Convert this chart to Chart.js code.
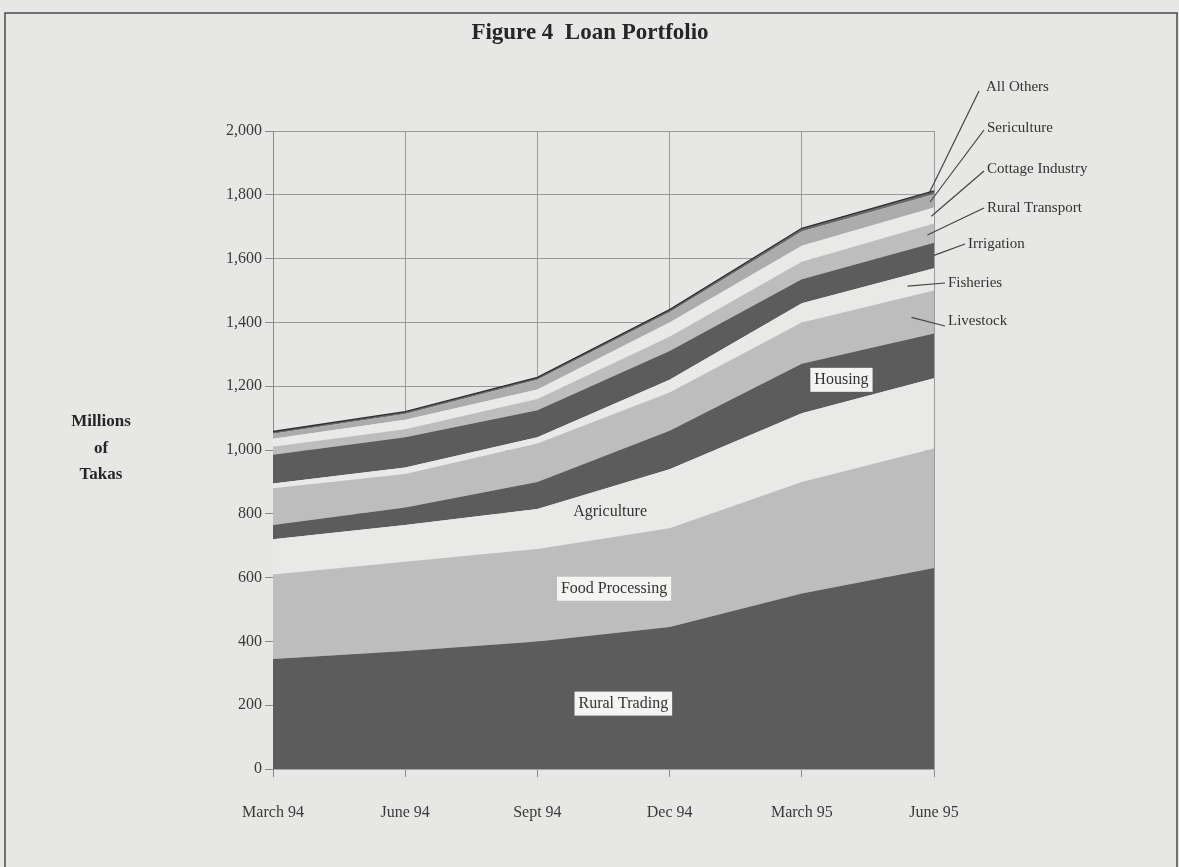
<!DOCTYPE html>
<html>
<head>
<meta charset="utf-8">
<title>Loan Portfolio</title>
<script src="https://cdn.jsdelivr.net/npm/chart.js@4.4.1/dist/chart.umd.min.js"></script>
<style>
  html, body { margin: 0; padding: 0; background: #e7e7e5; }
  #wrap { width: 1179px; height: 867px; }
</style>
</head>
<body>
<div id="wrap"><canvas id="loanChart" width="1179" height="867"></canvas></div>
<script>
// quarterly loan balances by sector, millions of takas
const quarters = ['March 94', 'June 94', 'Sept 94', 'Dec 94', 'March 95', 'June 95'];
const ruralTrading    = [345, 370, 400, 445, 550, 630];
const foodProcessing  = [265, 280, 290, 310, 350, 375];
const agriculture     = [110, 115, 125, 185, 215, 220];
const housing         = [45, 55, 85, 120, 155, 140];
const livestock       = [115, 105, 120, 120, 130, 135];
const fisheries       = [15, 20, 20, 40, 60, 70];
const irrigation      = [90, 95, 85, 90, 75, 80];
const ruralTransport  = [25, 25, 35, 45, 55, 60];
const cottageIndustry = [25, 30, 30, 45, 50, 50];
const sericulture     = [16, 18, 30, 32, 45, 42];
const allOthers       = [7, 7, 8, 8, 10, 10];

const SERIF = '"Liberation Serif", "DejaVu Serif", serif';
const DARK = '#5c5c5c', MID = '#bdbdbd', PALE = '#e9e9e7';

const sectors = [
    { label: 'Rural Trading', data: ruralTrading, color: DARK },
    { label: 'Food Processing', data: foodProcessing, color: MID },
    { label: 'Agriculture', data: agriculture, color: PALE },
    { label: 'Housing', data: housing, color: DARK },
    { label: 'Livestock', data: livestock, color: MID },
    { label: 'Fisheries', data: fisheries, color: PALE },
    { label: 'Irrigation', data: irrigation, color: DARK },
    { label: 'Rural Transport', data: ruralTransport, color: MID },
    { label: 'Cottage Industry', data: cottageIndustry, color: PALE },
    { label: 'Sericulture', data: sericulture, color: '#acacac' },
    { label: 'All Others', data: allOthers, color: '#6a6a6a' }
];

// labels written on the bands: index position + value position
const bandLabels = [
    { text: 'Rural Trading', at: 2.65, value: 205, boxed: true },
    { text: 'Food Processing', at: 2.58, value: 565, boxed: true },
    { text: 'Agriculture', at: 2.55, value: 805, boxed: false },
    { text: 'Housing', at: 4.3, value: 1220, boxed: true }
];

// labels to the right with leader lines; at = fractional category index of the anchor
const calloutLabels = [
    { series: 10, at: 4.96, tx: 986, ty: 87, lx: 979, ly: 91 },
    { series: 9, at: 4.97, tx: 987, ty: 128, lx: 984, ly: 130 },
    { series: 8, at: 4.98, tx: 987, ty: 169, lx: 984, ly: 171 },
    { series: 7, at: 4.95, tx: 987, ty: 208, lx: 984, ly: 208 },
    { series: 6, at: 5, tx: 968, ty: 244, lx: 965, ly: 244 },
    { series: 5, at: 4.8, tx: 948, ty: 283, lx: 945, ly: 283 },
    { series: 4, at: 4.83, tx: 948, ty: 321, lx: 945, ly: 326 }
];

const lerp = (a, b, t) => a + (b - a) * t;

const bandPoint = (chart, series, at) => {
    const i = Math.min(Math.floor(at), quarters.length - 2);
    const t = at - i;
    const top = chart.getDatasetMeta(series).data;
    const x = lerp(top[i].x, top[i + 1].x, t);
    const yTop = lerp(top[i].y, top[i + 1].y, t);
    let yBottom = chart.scales.y.getPixelForValue(0);
    if (series > 0) {
        const below = chart.getDatasetMeta(series - 1).data;
        yBottom = lerp(below[i].y, below[i + 1].y, t);
    }
    return { x, y: (yTop + yBottom) / 2 };
};

const decorations = {
    id: 'decorations',
    beforeDraw(chart) {
        const ctx = chart.ctx;
        ctx.save();
        ctx.fillStyle = '#e7e7e5';
        ctx.fillRect(0, 0, chart.width, chart.height);
        ctx.strokeStyle = '#4a4a4a';
        ctx.lineWidth = 1.5;
        ctx.strokeRect(5, 13, 1172, 870);
        ctx.restore();
    },
    afterDraw(chart) {
        const ctx = chart.ctx;
        const xs = chart.scales.x, ys = chart.scales.y;
        ctx.save();

        ctx.fillStyle = '#262626';
        ctx.textAlign = 'center';
        ctx.textBaseline = 'middle';
        ctx.font = 'bold 23px ' + SERIF;
        ctx.fillText('Figure 4  Loan Portfolio', 590, 33);

        ctx.font = 'bold 17px ' + SERIF;
        ctx.fillText('Millions', 101, 422);
        ctx.fillText('of', 101, 449);
        ctx.fillText('Takas', 101, 475);

        ctx.font = '16px ' + SERIF;
        bandLabels.forEach(l => {
            const x = lerp(xs.getPixelForValue(Math.floor(l.at)), xs.getPixelForValue(Math.floor(l.at) + 1), l.at % 1);
            const y = ys.getPixelForValue(l.value);
            const w = ctx.measureText(l.text).width;
            if (l.boxed) {
                ctx.fillStyle = '#f4f4f2';
                ctx.fillRect(x - w / 2 - 4, y - 12, w + 8, 24);
            }
            ctx.fillStyle = '#333';
            ctx.fillText(l.text, x, y);
        });

        ctx.font = '15px ' + SERIF;
        ctx.textAlign = 'left';
        ctx.strokeStyle = '#444';
        ctx.lineWidth = 1.2;
        calloutLabels.forEach(c => {
            const p = bandPoint(chart, c.series, c.at);
            ctx.beginPath();
            ctx.moveTo(p.x, p.y);
            ctx.lineTo(c.lx, c.ly);
            ctx.stroke();
            ctx.fillStyle = '#333';
            ctx.fillText(sectors[c.series].label, c.tx, c.ty);
        });
        ctx.restore();
    }
};

const buildDatasets = () => sectors.map((s, i) => ({
    label: s.label,
    data: s.data,
    backgroundColor: s.color,
    borderColor: i === sectors.length - 1 ? '#2e2e2e' : s.color,
    borderWidth: i === sectors.length - 1 ? 1.3 : 0,
    fill: i === 0 ? 'origin' : '-1',
    pointRadius: 0,
    tension: 0
}));

const main = () => {
    const ctx = document.querySelector('#loanChart').getContext('2d');
    new Chart(ctx, {
        type: 'line',
        data: { labels: quarters, datasets: buildDatasets() },
        plugins: [decorations],
        options: {
            responsive: false,
            animation: false,
            devicePixelRatio: 1,
            layout: { padding: { top: 131, right: 245, left: 0, bottom: 0 } },
            plugins: { legend: { display: false }, tooltip: { enabled: false } },
            scales: {
                x: {
                    offset: false,
                    afterFit: scale => { scale.height = 98; },
                    grid: { color: '#9a9a9a', tickColor: '#8a8a8a', tickLength: 8, drawOnChartArea: true },
                    border: { color: '#a8a8a8' },
                    ticks: { color: '#3a3a3a', padding: 26, maxRotation: 0, font: { family: SERIF, size: 16 } }
                },
                y: {
                    stacked: true,
                    min: 0,
                    max: 2000,
                    afterFit: scale => { scale.width = 273; },
                    grid: { color: '#9a9a9a', tickColor: '#8a8a8a', tickLength: 8 },
                    border: { color: '#8a8a8a' },
                    ticks: {
                        stepSize: 200,
                        color: '#3a3a3a',
                        padding: 3,
                        font: { family: SERIF, size: 16 },
                        callback: v => v.toLocaleString('en-US')
                    }
                }
            }
        }
    });
};

window.addEventListener('DOMContentLoaded', main);
</script>
</body>
</html>
